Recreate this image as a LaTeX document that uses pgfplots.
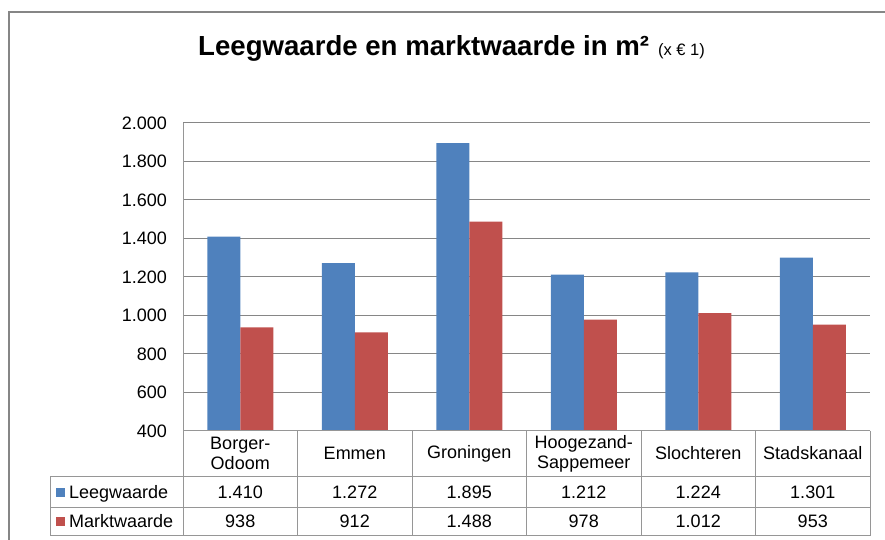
\documentclass[border=0pt]{standalone}
\usepackage{fontspec}
\setmainfont{Liberation Sans}
\usepackage{pgfplots}
\usepackage{pgfplotstable}
\pgfplotsset{compat=1.18}
\definecolor{blu}{RGB}{79,129,189}
\definecolor{rd}{RGB}{192,80,77}
\definecolor{gridc}{RGB}{134,134,134}
\definecolor{tabc}{RGB}{150,150,150}
\newcommand\tf{\fontsize{18bp}{20bp}\selectfont}
\pgfplotstableread{
idx lee mark
0 1410 938
1 1272 912
2 1895 1488
3 1212 978
4 1224 1012
5 1301 953
}\data
\pgfkeys{/pgf/number format/.cd, 1000 sep={.}, assume math mode=true}
\begin{document}
\begin{tikzpicture}[x=1bp,y=1bp]
\path[use as bounding box] (0,0) rectangle (885,540);
% outer frame
\draw[gridc, line width=2bp] (9,-2) -- (9,528) -- (887,528);
% title
\node[anchor=base west, inner sep=0pt] at (198,484) {\fontsize{27.6bp}{32bp}\selectfont\bfseries Leegwaarde en marktwaarde in m²\hspace{9bp}\fontsize{16.5bp}{19bp}\selectfont\mdseries(x € 1)};
\begin{axis}[
  at={(183bp,109bp)}, anchor=south west,
  scale only axis, width=687bp, height=308bp,
  xmin=-0.5, xmax=5.5, ymin=400, ymax=2000,
  ybar=0pt, bar width=33bp,
  ytick={400,600,...,2000},
  xtick={0,...,5},
  xticklabels={{Borger-\\Odoom},Emmen,Groningen,{Hoogezand-\\Sappemeer},Slochteren,Stadskanaal},
  xticklabel style={anchor=center, yshift=-22.5bp, align=center, font=\tf},
  yticklabel style={anchor=east, inner sep=0pt, xshift=-16bp, font=\tf},
  major tick length=0pt,
  ymajorgrids, grid style={gridc, line width=1bp},
  axis x line*=bottom, axis y line*=left,
  axis line style={-, tabc, line width=1bp},
  /pgf/number format/1000 sep={.},
  /pgf/number format/assume math mode=true,
]
\addplot[fill=blu, draw=none] table[x=idx,y=lee]{\data};
\addplot[fill=rd, draw=none] table[x=idx,y=mark]{\data};
\end{axis}
% data table
\begin{scope}[tabc, line width=1bp]
\draw (183,109) -- (870,109);
\draw (50,63) -- (870,63);
\draw (50,32) -- (870,32);
\draw (50,4) -- (870,4);
\draw (50,63) -- (50,4);
\foreach \x in {183,297.5,412,526.5,641,755.5,870} \draw (\x,109) -- (\x,4);
\end{scope}
\fill[blu] (56,43) rectangle ++(9,9);
\fill[rd] (56,14) rectangle ++(9,9);
\node[anchor=base west, inner sep=0pt] at (69,41) {\tf Leegwaarde};
\node[anchor=base west, inner sep=0pt] at (69,12) {\tf Marktwaarde};
\foreach \i in {0,...,5} {
  \pgfplotstablegetelem{\i}{lee}\of\data
  \node[anchor=base, inner sep=0pt] at ({183+114.5*(\i+0.5)},41) {\tf\pgfmathprintnumber{\pgfplotsretval}};
  \pgfplotstablegetelem{\i}{mark}\of\data
  \node[anchor=base, inner sep=0pt] at ({183+114.5*(\i+0.5)},12) {\tf\pgfmathprintnumber{\pgfplotsretval}};
}
\end{tikzpicture}
\end{document}
